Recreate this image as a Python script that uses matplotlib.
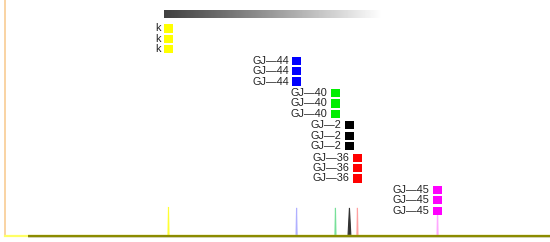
import numpy as np
import matplotlib
matplotlib.use("Agg")
from matplotlib import pyplot as plt
from matplotlib import transforms as mtrans
from matplotlib.patches import Rectangle

plt.rcParams['font.family'] = ['Liberation Sans', 'DejaVu Sans']

# peak data (retention time, min / relative intensity)
names = ['k', 'GJ—44', 'GJ—40', 'GJ—2', 'GJ—36', 'GJ—45']
rt = [9.0, 16.05, 18.19, 18.96, 19.40, 23.81]
heights = [12.3, 11.9, 11.9, 11.9, 11.9, 11.9]
widths = [0.03, 0.03, 0.03, 0.08, 0.03, 0.03]
line_colors = ['#ffff33', '#b0b0ff', '#77e099', '#333333', '#ffa0a0', '#ffa8ff']
box_colors = ['#ffff00', '#0000ff', '#00ee00', '#000000', '#ff0000', '#ff00ff']
baseline_start = 1.27
x_max = 30.0

W, H = 550, 242
fig = plt.figure(figsize=(W / 100, H / 100), dpi=100)
ax = fig.add_axes([5 / W, 6 / H, 545 / W, 236 / H])
ax.set_xlim(0, x_max)
ax.set_ylim(0, 100)
ax.set_xticks([])
ax.set_yticks([])
for s in ['top', 'right']:
    ax.spines[s].set_visible(False)
ax.spines['left'].set_color('#f8cc94')
ax.spines['left'].set_linewidth(1.2)
ax.spines['bottom'].set_color('#ffff66')
ax.spines['bottom'].set_linewidth(1.6)

# flat baseline of the trace
ax.plot([baseline_start, x_max], [0, 0], color='#8b8b00', lw=1.6,
        clip_on=False, zorder=3, solid_capstyle='butt')
ax.plot([baseline_start, x_max], [-0.6, -0.6], color='#cfcfcf', lw=0.6,
        clip_on=False, zorder=2)

# peaks
for x, h, w, c in zip(rt, heights, widths, line_colors):
    ax.fill([x - w, x, x + w], [0, h, 0], color=c, lw=0.8, ec=c, zorder=2)

# stacked labels above the peaks
trans = mtrans.blended_transform_factory(ax.transData, ax.transAxes)
text_trans = mtrans.offset_copy(trans, fig=fig, x=-5.6, y=0, units='points')
axh = 236.0
sq_w = 9 / 545 * x_max
sq_h = 8.2 / axh
for i, (x, name, c) in enumerate(zip(rt, names, box_colors)):
    for j in range(3):
        ypx = 28.4 + 32.3 * i + 10.4 * j
        yf = 1 - ypx / axh
        ax.add_patch(Rectangle((x - sq_w / 2, yf - sq_h / 2), sq_w, sq_h,
                               transform=trans, facecolor=c, edgecolor='none',
                               lw=0, snap=True, antialiased=False,
                               clip_on=False, zorder=5))
        ax.text(x, yf, name, transform=text_trans, ha='right', va='center',
                fontsize=7.8, color='#222222', zorder=5)

# gradient bar on top
grad = np.linspace(0, 1, 256) ** 1.1
grad = np.vstack([grad, grad])
ax.imshow(grad, cmap='gray', vmin=-0.35, vmax=1.0, aspect='auto',
          extent=[(164 - 5) / 545, (382 - 5) / 545, 1 - 18 / axh, 1 - 10 / axh],
          transform=ax.transAxes, interpolation='bilinear', zorder=4)
ax.set_xlim(0, x_max)
ax.set_ylim(0, 100)

fig.savefig('out.png', dpi=100)
